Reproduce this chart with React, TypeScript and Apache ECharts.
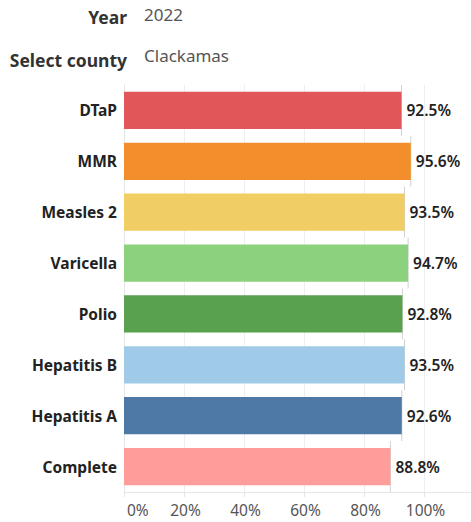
import React, { useEffect, useRef } from "react";
import * as echarts from "echarts";

const categories = ["DTaP", "MMR", "Measles 2", "Varicella", "Polio", "Hepatitis B", "Hepatitis A", "Complete"];
const rates = [92.5, 95.6, 93.5, 94.7, 92.8, 93.5, 92.6, 88.8];
const barColors = ["#e15759", "#f28e2b", "#f1ce63", "#8cd17d", "#59a14f", "#a0cbe8", "#4e79a7", "#ff9d9a"];
const tickValues = [0, 20, 40, 60, 80, 100];
const yearLabel = "2022";
const countyLabel = "Clackamas";

const FONT = "'Noto Sans', sans-serif";

export default function App() {
  const ref = useRef<HTMLDivElement>(null);
  useEffect(() => {
    document.body.style.margin = "0";
    const chart = echarts.init(ref.current!, undefined, { renderer: "svg" });
    chart.setOption({
      animation: false,
      textStyle: { fontFamily: FONT },
      graphic: [
        { type: "text", x: 127, y: 17, style: { text: "Year", fontFamily: FONT, fontSize: 17.5, fontWeight: "bold", fill: "#333", align: "right", verticalAlign: "middle" } },
        { type: "text", x: 144, y: 14, style: { text: yearLabel, fontFamily: FONT, fontSize: 17, fill: "#555", align: "left", verticalAlign: "middle" } },
        { type: "text", x: 127, y: 60, style: { text: "Select county", fontFamily: FONT, fontSize: 17.5, fontWeight: "bold", fill: "#333", align: "right", verticalAlign: "middle" } },
        { type: "text", x: 144, y: 55, style: { text: countyLabel, fontFamily: FONT, fontSize: 17, fill: "#555", align: "left", verticalAlign: "middle" } },
      ],
      grid: { left: 124, top: 85, width: 360, height: 407, containLabel: false, outerBoundsMode: "none" },
      xAxis: {
        type: "value",
        min: 0,
        max: 120,
        interval: 20,
        axisLine: { show: true, lineStyle: { color: "#e6e6e6" } },
        axisTick: { show: true, length: 5, lineStyle: { color: "#e6e6e6" } },
        splitLine: { show: true, lineStyle: { color: "#eeeeee" } },
        axisLabel: {
          color: "#555",
          fontSize: 15.5,
          lineHeight: 15,
          fontFamily: FONT,
          margin: 10,
          alignMinLabel: "left",
          padding: [0, 0, 0, 3],
          formatter: (v: number) => (tickValues.includes(v) ? v + "%" : ""),
        },
      },
      yAxis: {
        type: "category",
        data: categories,
        inverse: true,
        axisLine: { show: true, lineStyle: { color: "#e6e6e6" } },
        axisTick: { show: false },
        axisLabel: { color: "#222", fontSize: 15.5, fontWeight: "bold", fontFamily: FONT, margin: 7 },
      },
      series: [
        {
          type: "bar",
          data: rates.map((v, i) => ({ value: v, itemStyle: { color: barColors[i] } })),
          barCategoryGap: "27%",
          label: {
            show: true,
            position: "right",
            distance: 5,
            color: "#222",
            fontSize: 15.5,
            fontWeight: 600,
            fontFamily: FONT,
            formatter: (p: any) => p.value.toFixed(1) + "%",
          },
          z: 2,
        },
        {
          type: "custom",
          data: rates.map((v, i) => [v, i]),
          encode: { x: 0, y: 1 },
          renderItem: (params: any, api: any) => {
            const c = api.coord([api.value(0), api.value(1)]);
            const h = api.size([0, 1])[1];
            return {
              type: "line",
              shape: { x1: c[0], y1: c[1] - h / 2, x2: c[0], y2: c[1] + h / 2 },
              style: { stroke: "#d0d0d0", lineWidth: 1 },
            };
          },
          z: 1,
        },
      ],
    });
    return () => chart.dispose();
  }, []);
  return <div ref={ref} style={{ width: 471, height: 522 }} />;
}
